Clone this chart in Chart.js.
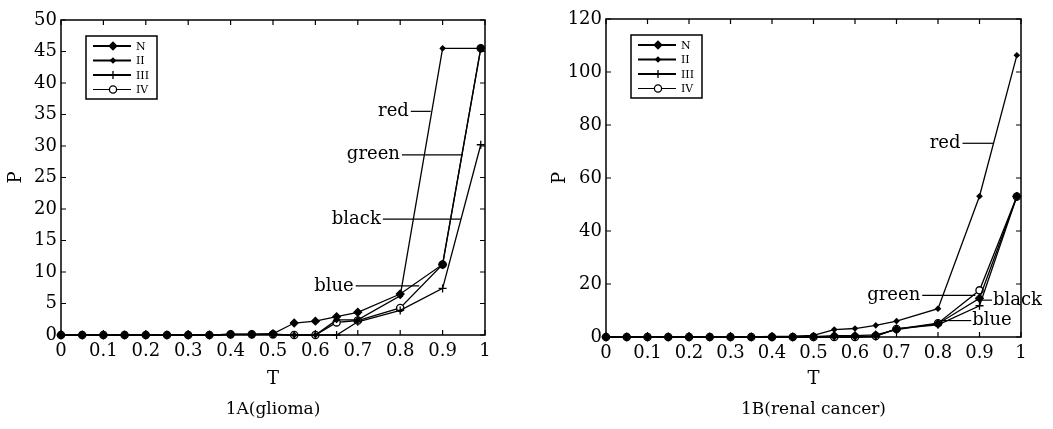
<!DOCTYPE html>
<html>
<head>
<meta charset="utf-8">
<script src="https://cdn.jsdelivr.net/npm/chart.js@4.4.0/dist/chart.umd.min.js"></script>
<style>
body { margin: 0; background: #fff; width: 1053px; height: 429px; position: relative; overflow: hidden; }
canvas { position: absolute; top: 0; }
#chartA { left: 0; }
#chartB { left: 540px; }
</style>
</head>
<body>
<canvas id="chartA" width="530" height="429"></canvas>
<canvas id="chartB" width="513" height="429"></canvas>
<script>
// T values where points were measured
const tValues = [0, 0.05, 0.1, 0.15, 0.2, 0.25, 0.3, 0.35, 0.4, 0.45, 0.5, 0.55, 0.6, 0.65, 0.7, 0.8, 0.9, 0.99];
const xTicks = [0, 0.1, 0.2, 0.3, 0.4, 0.5, 0.6, 0.7, 0.8, 0.9, 1];
const seriesNames = ['N', 'II', 'III', 'IV'];

// 1A glioma
const gliomaN   = [0, 0, 0, 0, 0, 0, 0, 0, 0.1, 0.1, 0.2, 1.9, 2.2, 2.9, 3.6, 6.5, 11.2, 45.5];
const gliomaII  = [0, 0, 0, 0, 0, 0, 0, 0, 0.1, 0.1, 0.1, 0, 0, 2.4, 2.4, 6.2, 45.5, 45.5];
const gliomaIII = [0, 0, 0, 0, 0, 0, 0, 0, 0.1, 0.1, 0.1, 0, 0, 0, 2.1, 3.9, 7.4, 30.2];
const gliomaIV  = [0, 0, 0, 0, 0, 0, 0, 0, 0.1, 0.1, 0.1, 0, 0, 2.0, 2.3, 4.3, 11.2, 45.5];
const gliomaYTicks = [0, 5, 10, 15, 20, 25, 30, 35, 40, 45, 50];

// 1B renal cancer
const renalN   = [0, 0, 0, 0, 0, 0, 0, 0, 0, 0, 0.1, 0.5, 0.5, 0.8, 2.8, 5.0, 14.6, 53];
const renalII  = [0, 0, 0, 0, 0, 0, 0, 0, 0.2, 0.3, 0.6, 2.8, 3.2, 4.4, 6.0, 10.7, 53.1, 106.3];
const renalIII = [0, 0, 0, 0, 0, 0, 0, 0, 0, 0, 0, 0, 0, 0.2, 3.2, 4.6, 11.8, 53];
const renalIV  = [0, 0, 0, 0, 0, 0, 0, 0, 0, 0, 0, 0, 0, 0.4, 3.0, 5.2, 17.6, 53];
const renalYTicks = [0, 20, 40, 60, 80, 100, 120];

// marker look per series
const markers = [
  { pointStyle: 'rectRot', radius: 3.8, fill: '#000' },
  { pointStyle: 'rectRot', radius: 2.4, fill: '#000' },
  { pointStyle: 'cross', radius: 4, fill: '#000' },
  { pointStyle: 'circle', radius: 3.6, fill: '#fff' }
];

const serif = "'DejaVu Serif', 'Liberation Serif', serif";

// frame, inward ticks, labels pointing at lines, legend box and caption
const frame = {
  id: 'frame',
  afterDraw(chart, args, opts) {
    const { ctx, chartArea: a, scales: { x, y } } = chart;
    ctx.save();
    ctx.strokeStyle = '#000';
    ctx.lineWidth = 1.5;
    ctx.strokeRect(a.left, a.top, a.right - a.left, a.bottom - a.top);

    ctx.lineWidth = 1.2;
    ctx.beginPath();
    x.ticks.forEach(t => {
      const px = x.getPixelForValue(t.value);
      ctx.moveTo(px, a.bottom); ctx.lineTo(px, a.bottom - 5);
      ctx.moveTo(px, a.top); ctx.lineTo(px, a.top + 5);
    });
    y.ticks.forEach(t => {
      const py = y.getPixelForValue(t.value);
      ctx.moveTo(a.left, py); ctx.lineTo(a.left + 5, py);
      ctx.moveTo(a.right, py); ctx.lineTo(a.right - 5, py);
    });
    ctx.stroke();

    // colour notes
    ctx.font = '18px ' + serif;
    ctx.fillStyle = '#000';
    ctx.textBaseline = 'middle';
    ctx.lineWidth = 1.2;
    opts.notes.forEach(n => {
      const x1 = x.getPixelForValue(n.x1), x2 = x.getPixelForValue(n.x2), py = y.getPixelForValue(n.y);
      ctx.beginPath();
      ctx.moveTo(x1, py); ctx.lineTo(x2, py);
      ctx.stroke();
      if (n.side === 'left') {
        ctx.textAlign = 'right';
        ctx.fillText(n.text, x1 - 2, py);
      } else {
        ctx.textAlign = 'left';
        ctx.fillText(n.text, x2 + 1, py);
      }
    });

    // legend
    const bx = a.left + 25, by = a.top + 16, bw = 71, bh = 63;
    ctx.fillStyle = '#fff';
    ctx.fillRect(bx, by, bw, bh);
    ctx.lineWidth = 1.5;
    ctx.strokeRect(bx, by, bw, bh);
    ctx.font = '11px ' + serif;
    ctx.textAlign = 'left';
    chart.data.datasets.forEach((ds, i) => {
      const ry = by + 10 + i * 14.5;
      ctx.strokeStyle = '#000';
      ctx.lineWidth = i === 3 ? 1.2 : 1.8;
      ctx.beginPath();
      ctx.moveTo(bx + 7, ry); ctx.lineTo(bx + 45, ry);
      ctx.stroke();
      ctx.fillStyle = ds.pointBackgroundColor;
      ctx.lineWidth = 1.3;
      Chart.helpers.drawPoint(ctx, { pointStyle: ds.pointStyle, radius: ds.pointRadius, borderWidth: 1.3 }, bx + 27, ry);
      ctx.fillStyle = '#000';
      ctx.fillText(ds.label, bx + 50, ry + 1);
    });

    // caption under the plot
    ctx.font = '17px ' + serif;
    ctx.textAlign = 'center';
    ctx.fillStyle = '#000';
    ctx.fillText(opts.caption, (a.left + a.right) / 2, chart.height - 19);
    ctx.restore();
  }
};

function makeChart(id, series, yTicks, cfg) {
  return new Chart(document.getElementById(id), {
    type: 'line',
    data: {
      datasets: series.map((vals, i) => ({
        label: seriesNames[i],
        data: tValues.map((t, j) => ({ x: t, y: vals[j] })),
        borderColor: '#000',
        borderWidth: 1.3,
        pointStyle: markers[i].pointStyle,
        pointRadius: markers[i].radius,
        pointBackgroundColor: markers[i].fill,
        pointBorderColor: '#000',
        pointBorderWidth: 1.3,
        tension: 0,
        clip: false
      }))
    },
    options: {
      responsive: false,
      animation: false,
      layout: { padding: { left: 0, right: cfg.padRight, top: cfg.padTop, bottom: 39 } },
      plugins: {
        legend: { display: false },
        tooltip: { enabled: false },
        frame: { notes: cfg.notes, caption: cfg.caption }
      },
      scales: {
        x: {
          type: 'linear',
          min: 0,
          max: 1,
          afterBuildTicks: s => { s.ticks = xTicks.map(v => ({ value: v })); },
          afterFit: s => { s.height = cfg.xHeight; },
          grid: { display: false, drawTicks: false },
          border: { display: false },
          ticks: {
            color: '#000',
            padding: 6,
            maxRotation: 0,
            autoSkip: false,
            font: { family: serif, size: 18 },
            callback: v => String(Number(v.toFixed(2)))
          },
          title: { display: true, text: 'T', color: '#000', padding: { top: 0, bottom: 0 }, font: { family: serif, size: 18 } }
        },
        y: {
          min: 0,
          max: yTicks[yTicks.length - 1],
          afterBuildTicks: s => { s.ticks = yTicks.map(v => ({ value: v })); },
          afterFit: s => { s.width = cfg.yWidth; },
          grid: { display: false, drawTicks: false },
          border: { display: false },
          ticks: { color: '#000', padding: 4, autoSkip: false, font: { family: serif, size: 18 } },
          title: { display: true, text: 'P', color: '#000', padding: { top: cfg.pPad, bottom: 0 }, font: { family: serif, size: 18 } }
        }
      }
    },
    plugins: [frame]
  });
}

makeChart('chartA', [gliomaN, gliomaII, gliomaIII, gliomaIV], gliomaYTicks, {
  padRight: 45, padTop: 20, yWidth: 61, xHeight: 55, pPad: 6,
  caption: '1A(glioma)',
  notes: [
    { text: 'red', x1: 0.825, x2: 0.872, y: 35.5, side: 'left' },
    { text: 'green', x1: 0.804, x2: 0.947, y: 28.6, side: 'left' },
    { text: 'black', x1: 0.759, x2: 0.943, y: 18.4, side: 'left' },
    { text: 'blue', x1: 0.695, x2: 0.845, y: 7.8, side: 'left' }
  ]
});

makeChart('chartB', [renalN, renalII, renalIII, renalIV], renalYTicks, {
  padRight: 32, padTop: 19, yWidth: 66, xHeight: 53, pPad: 10,
  caption: '1B(renal cancer)',
  notes: [
    { text: 'red', x1: 0.859, x2: 0.933, y: 73.1, side: 'left' },
    { text: 'green', x1: 0.762, x2: 0.89, y: 15.7, side: 'left' },
    { text: 'black', x1: 0.89, x2: 0.93, y: 13.9, side: 'right' },
    { text: 'blue', x1: 0.806, x2: 0.88, y: 6.2, side: 'right' }
  ]
});
</script>
</body>
</html>
